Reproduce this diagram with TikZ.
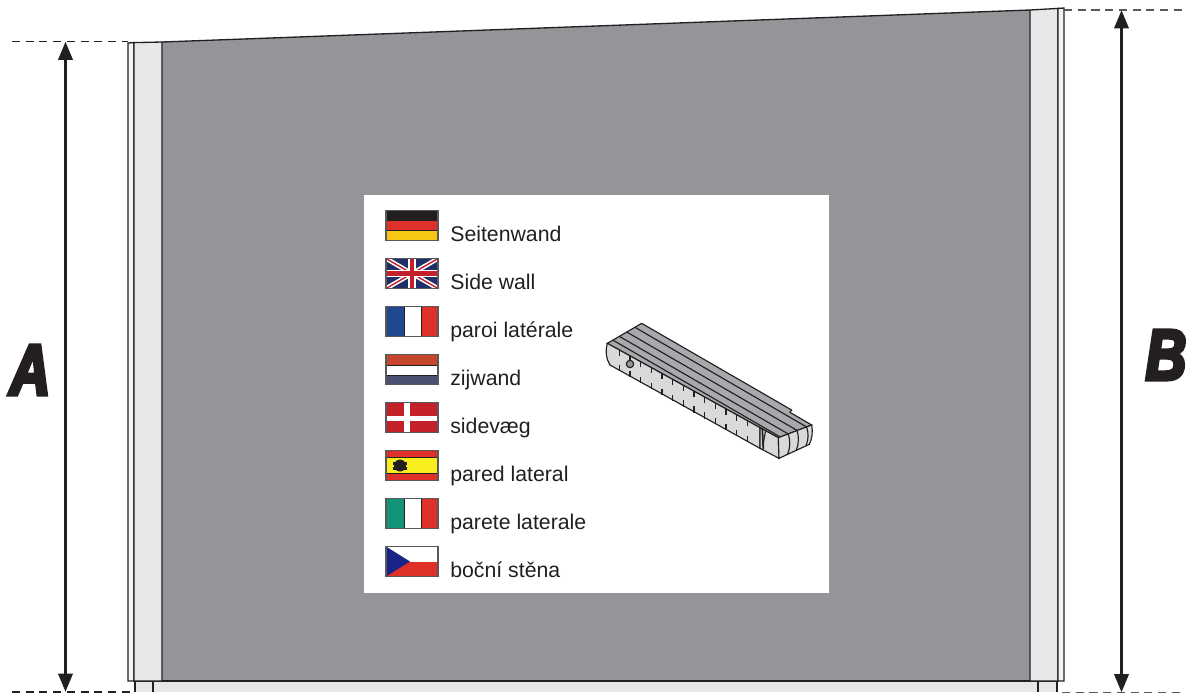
\documentclass[tikz,border=0pt]{standalone}
\usepackage{fontspec}
\setmainfont{Liberation Sans}
\newfontfamily\dimfont[FakeBold=5,FakeStretch=0.78]{Liberation Sans Bold Italic}
\usetikzlibrary{arrows.meta}
\definecolor{wallgray}{HTML}{939598}
\definecolor{postgray}{HTML}{E6E7E8}
\definecolor{inkblack}{HTML}{231F20}
\definecolor{edgegray}{HTML}{58595B}
\definecolor{rulerside}{HTML}{D8D9DA}
\definecolor{rulertop}{HTML}{A7A9AC}
\definecolor{flagred}{HTML}{E0302A}
\definecolor{flagblue}{HTML}{21488F}
\definecolor{flagnavy}{HTML}{1F2F68}
\definecolor{flaggreen}{HTML}{12937A}
\definecolor{flaggold}{HTML}{F7C714}
\definecolor{flagyellow}{HTML}{F9ED1D}
\definecolor{flagrust}{HTML}{C4472B}
\definecolor{flagslate}{HTML}{4A5070}
\definecolor{flagcrimson}{HTML}{C4202A}
\tikzset{
    wallline/.style={draw=inkblack,line width=0.75pt},
    dimarrow/.style={draw=inkblack,line width=2pt,{Triangle[length=10.5pt,width=8pt]}-{Triangle[length=10.5pt,width=8pt]}},
    dimdash/.style={inkblack,line width=0.75pt,dash pattern=on 4.6pt off 3.2pt},
    dimletter/.style={inner sep=0pt,text=inkblack,font=\dimfont\fontsize{41}{41}\selectfont},
    flagframe/.style={draw=edgegray,line width=0.7pt},
    flagrule/.style={draw=inkblack,line width=0.5pt},
    flaglabel/.style={anchor=base west,inner sep=0pt,text=inkblack,font=\fontsize{12.1}{14}\selectfont},
    rulerline/.style={draw=inkblack,line width=0.65pt},
    rulertick/.style={draw=inkblack,line width=0.9pt}
}
\begin{document}
\begin{tikzpicture}[x=0.02cm,y=-0.02cm]
    \useasboundingbox (0,0) rectangle (1192,698);
    % floor and posts
    \fill[postgray] (135,681) rectangle (1057,692);
    \draw[wallline] (135,692) -- (135,681) -- (1057,681) -- (1057,692);
    \draw[wallline] (153,681) -- (153,692);
    \draw[wallline] (1038,681) -- (1038,692);
    \fill[wallgray] (162,42) -- (1030,10) -- (1030,681) -- (162,681) -- cycle;
    \draw[wallline,fill=postgray!50!white] (128,43) -- (134,42.6) -- (134,681) -- (128,681) -- cycle;
    \draw[wallline,fill=postgray] (134,42.6) -- (162,42) -- (162,681) -- (134,681) -- cycle;
    \draw[wallline,fill=postgray] (1030,10) -- (1058,8.4) -- (1058,681) -- (1030,681) -- cycle;
    \draw[wallline,fill=postgray!50!white] (1058,8.4) -- (1064,8) -- (1064,681) -- (1058,681) -- cycle;
    \draw[wallline] (162,42) -- (1030,10);
    \draw[wallline] (162,681) -- (1030,681);
    % dimensions
    \coordinate (topAout) at (12,41.5);
    \coordinate (topAin) at (128,41.5);
    \coordinate (botAout) at (12,692);
    \coordinate (botAin) at (130,692);
    \coordinate (topBin) at (1064,10);
    \coordinate (topBout) at (1182,10);
    \coordinate (botBin) at (1062,692.5);
    \coordinate (botBout) at (1182,692.5);
    \coordinate (arrowAtop) at (65.5,41.5);
    \coordinate (arrowAbot) at (65.5,692);
    \coordinate (arrowBtop) at (1121.5,10);
    \coordinate (arrowBbot) at (1121.5,692.5);
    \draw[dimdash] (topAout) -- (topAin);
    \draw[dimdash] (botAout) -- (botAin);
    \draw[dimdash,edgegray] (topBin) -- (topBout);
    \draw[dimdash,edgegray] (botBin) -- (botBout);
    \draw[dimarrow] (arrowAtop) -- (arrowAbot);
    \draw[dimarrow] (arrowBtop) -- (arrowBbot);
    \node[dimletter] (letterA) at (30,370) {A};
    \node[dimletter] (letterB) at (1166,355) {B};
    % legend
    \fill[white] (364,195) rectangle (829,593);
    \begin{scope}[shift={(386,210.5)}]
        \fill[inkblack] (0,0) rectangle (52,10);
        \fill[flagred] (0,10) rectangle (52,20);
        \fill[flaggold] (0,20) rectangle (52,30);
        \draw[flagrule] (0,10) -- (52,10) (0,20) -- (52,20);
        \draw[flagframe] (0,0) rectangle (52,30);
    \end{scope}
    \begin{scope}[shift={(386,258.5)}]
        \fill[flagnavy] (0,0) rectangle (52,30);
        \draw[white,line width=2.6pt] (0,0) -- (52,30) (0,30) -- (52,0);
        \draw[flagcrimson,line width=0.8pt] (0,0) -- (52,30) (0,30) -- (52,0);
        \draw[white,line width=4pt] (26,0) -- (26,30) (0,15) -- (52,15);
        \draw[flagcrimson,line width=2.4pt] (26,0) -- (26,30) (0,15) -- (52,15);
        \draw[flagframe] (0,0) rectangle (52,30);
    \end{scope}
    \begin{scope}[shift={(386,306.5)}]
        \fill[flagblue] (0,0) rectangle (18,30);
        \fill[flagred] (35,0) rectangle (52,30);
        \draw[flagrule] (18,0) -- (18,30) (35,0) -- (35,30);
        \draw[flagframe] (0,0) rectangle (52,30);
    \end{scope}
    \begin{scope}[shift={(386,354.5)}]
        \fill[flagrust] (0,0) rectangle (52,11);
        \fill[flagslate] (0,21) rectangle (52,30);
        \draw[flagrule] (0,11) -- (52,11) (0,21) -- (52,21) (52,11) -- (52,21);
        \draw[flagframe] (0,0) rectangle (52,30);
    \end{scope}
    \begin{scope}[shift={(386,402.5)}]
        \fill[flagcrimson] (0,0) rectangle (52,30);
        \fill[white] (18,0) rectangle (24,30);
        \fill[white] (0,13) rectangle (52,18);
        \draw[flagframe] (0,0) rectangle (52,30);
    \end{scope}
    \begin{scope}[shift={(386,450.5)}]
        \fill[flagred] (0,0) rectangle (52,30);
        \fill[flagyellow] (0,7) rectangle (52,22.5);
        \draw[flagrule] (0,7) -- (52,7) (0,22.5) -- (52,22.5);
        \fill[inkblack] (14,15) ellipse (6 and 6);
        \fill[inkblack] (7,11) rectangle (21,14);
        \fill[inkblack] (7,16) rectangle (21,19);
        \draw[flagframe] (0,0) rectangle (52,30);
    \end{scope}
    \begin{scope}[shift={(386,498.5)}]
        \fill[flaggreen] (0,0) rectangle (18,30);
        \fill[flagred] (35,0) rectangle (52,30);
        \draw[flagrule] (18,0) -- (18,30) (35,0) -- (35,30);
        \draw[flagframe] (0,0) rectangle (52,30);
    \end{scope}
    \begin{scope}[shift={(386,546.5)}]
        \fill[flagred] (0,15) rectangle (52,30);
        \fill[flagnavy!80!blue] (0,0) -- (24,15) -- (0,30) -- cycle;
        \draw[flagframe] (0,0) rectangle (52,30);
    \end{scope}
    \node[flaglabel] (textde) at (450,241.5) {Seitenwand};
    \node[flaglabel] (textgb) at (450,289.5) {Side wall};
    \node[flaglabel] (textfr) at (450,337.5) {paroi latérale};
    \node[flaglabel] (textnl) at (450,385.5) {zijwand};
    \node[flaglabel] (textdk) at (450,433.5) {sidevæg};
    \node[flaglabel] (textes) at (450,481.5) {pared lateral};
    \node[flaglabel] (textit) at (450,529.5) {parete laterale};
    \node[flaglabel] (textcz) at (450,577.5) {boční stěna};
    % folding rule
    \begin{scope}[shift={(600,315)},scale=0.3333]
        \draw[rulerline,fill=rulertop] (22,85) -- (125,25) -- (575,285) -- (570,292) -- (635,330) -- (535,368) -- cycle;
        \draw[rulerline,fill=rulerside] (22,85) .. controls (15,110) and (20,135) .. (30,150) -- (480,400) -- (480,338) -- cycle;
        \draw[rulerline,fill=rulerside] (480,338) -- (535,368) -- (537,430) -- (480,400) -- cycle;
        \draw[rulerline,fill=rulerside] (535,368) -- (635,330) .. controls (640,350) and (635,375) .. (628,388) -- (537,430) -- cycle;
        \foreach \xa/\xb/\ya/\yb in {105/620/37/336,80/591/51/346,58/565/64/357,38/541/75/366} {
            \draw[rulerline] (\xa,\ya) -- (\xb,\yb);
        }
        \foreach \xa/\ya/\yb in {565/357/417,591/346/405,620/336/392} {
            \draw[rulerline] (\xa,\ya) .. controls (\xa+6,\ya+18) and (\xa+6,\yb-18) .. (\xa-2,\yb);
        }
        \foreach \ia in {0,...,12} {
            \draw[rulertick] (58+\ia*32,104+\ia*17.7) -- (58+\ia*32,122+\ia*17.7);
            \draw[rulertick] (58+\ia*32,150+\ia*17.7) -- (58+\ia*32,169+\ia*17.7);
        }
        \draw[rulerline,fill=wallgray] (90,147) circle (11);
        \draw[rulertick,line width=1pt] (487,342) -- (490,403);
        \draw[rulerline] (497,345) -- (490,385);
    \end{scope}
\end{tikzpicture}
\end{document}
